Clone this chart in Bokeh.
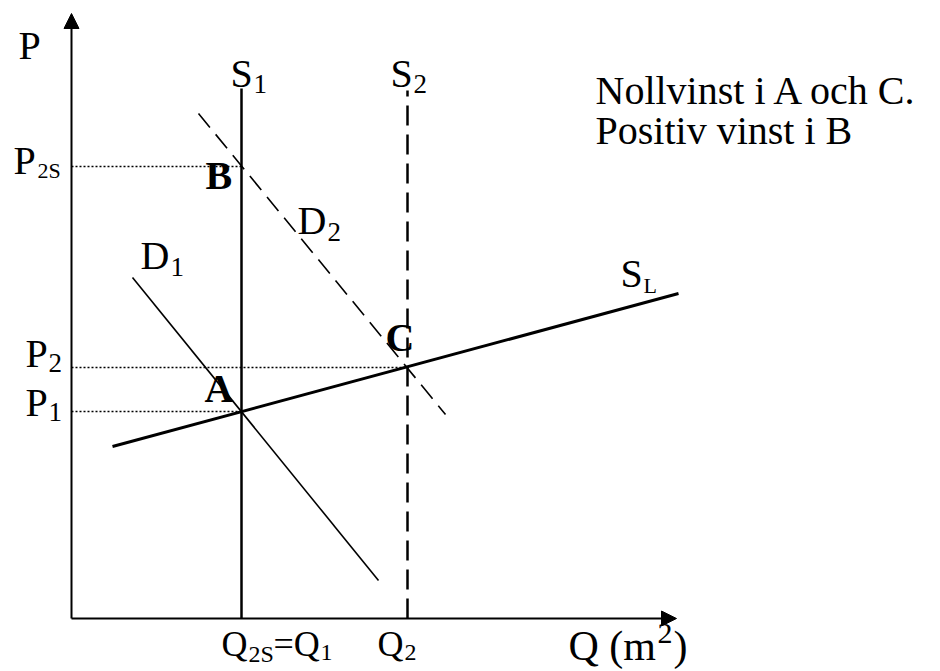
from bokeh.plotting import figure
from bokeh.models import Range1d, Arrow, NormalHead
from bokeh.core.properties import value
from bokeh.embed import file_html
from bokeh.resources import INLINE

# Market diagram: short-run supply S1/S2, long-run supply SL, demand D1/D2
q1 = 170          # Q2S = Q1
q2 = 336          # Q2
p1 = 207          # price at A
p2 = 251          # price at C
p2s = 452         # price at B

s1_top = 530
s2_top = 528

sl_q = [41, 607]
sl_p = [172, 325]

d1_q = [61, 307]
d1_p = [341, 38]

d2_q = [127, 374]
d2_p = [505, 204]

axis_len_q = 605
axis_len_p = 605

FONT = "Liberation Serif"
# the text glyph sits a little below the requested baseline; lift it by a share of the size
BASE_SHIFT = 0.375

p = figure(width=940, height=671, x_range=Range1d(-71, 869), y_range=Range1d(-53, 618),
           output_backend="svg", toolbar_location=None, min_border=0,
           min_border_left=0, min_border_right=0, min_border_top=0, min_border_bottom=0)
p.axis.visible = False
p.grid.visible = False
p.outline_line_color = None
p.background_fill_color = "white"
p.border_fill_color = "white"

# axes with arrow heads
p.add_layout(Arrow(end=NormalHead(size=15, fill_color="black", line_color="black"),
                   x_start=0, y_start=0, x_end=0, y_end=axis_len_p,
                   line_width=2, line_color="black"))
p.add_layout(Arrow(end=NormalHead(size=15, fill_color="black", line_color="black"),
                   x_start=0, y_start=0, x_end=axis_len_q, y_end=0,
                   line_width=2, line_color="black"))

# dotted guide lines to the price axis
p.segment(x0=[0, 0, 0], y0=[p2s, p2, p1], x1=[q1, q2, q1], y1=[p2s, p2, p1],
          line_color="black", line_width=1.3, line_dash="2 2")

# short-run supply curves
p.line([q1, q1], [0, s1_top], line_color="black", line_width=2.5)
p.line([q2, q2], [0, s2_top], line_color="black", line_width=2.5, line_dash="20 9")

# demand curves
p.line(d1_q, d1_p, line_color="black", line_width=1.6)
p.line(d2_q, d2_p, line_color="black", line_width=1.6, line_dash="18 9")

# long-run supply
p.line(sl_q, sl_p, line_color="black", line_width=3)


def label(xs, ys, texts, size, style="normal"):
    lift = BASE_SHIFT * size
    p.text(x=xs, y=[y + lift for y in ys], text=texts, text_font=value(FONT),
           text_font_size=f"{size}px", text_font_style=style, text_color="black",
           text_align="left", text_baseline="alphabetic")


# curve and price letters
label([-53, 159, 319, -58, 226, 69, 549, -46, -46],
      [558, 530, 530, 443, 383, 348, 330, 250, 201],
      ["P", "S", "S", "P", "D", "D", "S", "P", "P"], 40)

# subscripts
label([182, 342, 256, 99, -23, -23], [524, 524, 376, 341, 245, 196],
      ["1", "2", "2", "1", "2", "1"], 27)
label([-34, 572], [440, 325], ["2S", "L"], 22)

# quantity labels under the axis
label([150, 202, 306], [-39, -39, -39], ["Q", "=Q", "Q"], 36)
label([177, 249, 333], [-44, -43, -43], ["2S", "1", "2"], 24)

# equilibrium points
label([134, 314, 133], [428, 266, 215], ["B", "C", "A"], 40, "bold")

# quantity axis title
label([497, 602], [-43, -43], ["Q (m", ")"], 42)
label([586], [-26], ["2"], 30)

# note
label([524, 524], [513, 473], ["Nollvinst i A och C.", "Positiv vinst i B"], 40)

open("out.html", "w").write(file_html(p, INLINE))
